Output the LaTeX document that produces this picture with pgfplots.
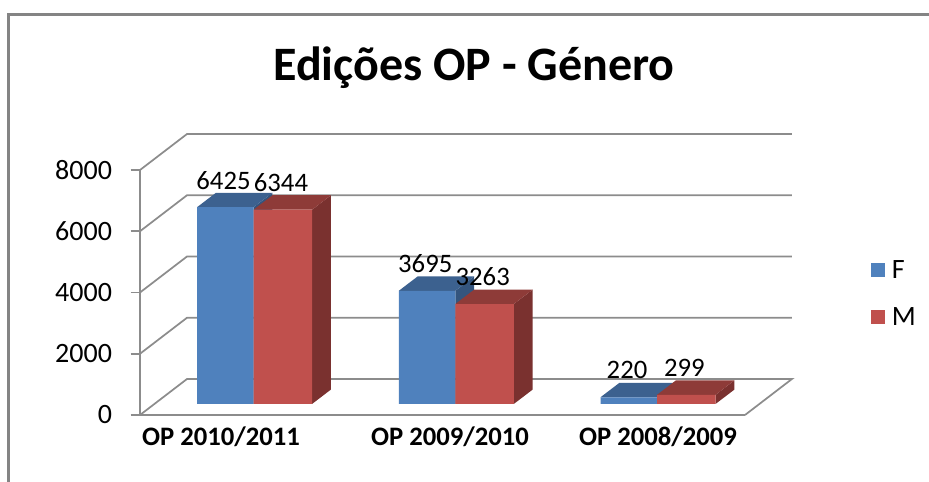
\documentclass[border=0pt]{standalone}
\usepackage{fontspec}
\setmainfont{Carlito}
\usepackage{pgfplots}
\pgfplotsset{compat=1.18}
\definecolor{gridc}{HTML}{8C8C8C}
\definecolor{framec}{HTML}{848484}
\definecolor{blueF}{HTML}{4F81BD}
\definecolor{blueT}{HTML}{3C618F}
\definecolor{blueS}{HTML}{34557E}
\definecolor{redF}{HTML}{C0504D}
\definecolor{redT}{HTML}{8E3B38}
\definecolor{redS}{HTML}{7A312F}
\pgfplotsset{
  base/.style={
    scale only axis, width=453.75pt, height=183.75pt,
    xmin=-0.5626, xmax=2.4362, ymin=0, ymax=8000,
    clip=false,
    /pgf/number format/assume math mode=true,
    /pgf/number format/1000 sep={},
  },
}
\begin{document}
\begin{tikzpicture}
\useasboundingbox (0,0) rectangle (696.75pt,361.5pt);
% outer frame of the chart, only top and left are there
\draw[framec, line width=1.8pt] (696.75pt,350.5pt) -- (6.5pt,350.5pt) -- (6.5pt,0);

% front plane: ticks, labels, and the walls behind
\begin{axis}[base, at={(105pt,50.25pt)}, anchor=south west,
  axis x line*=bottom, axis y line*=left,
  axis line style={gridc, line width=1.3pt},
  ytick={0,2000,4000,6000,8000},
  xtick={-0.161,0.974,2.005},
  xticklabels={OP 2010/2011,OP 2009/2010,OP 2008/2009},
  x tick style={draw=none},
  y tick style={gridc, line width=1.3pt},
  tick align=outside, major tick length=7pt,
  xticklabel style={font=\fontsize{20}{20}\selectfont\bfseries, yshift=2pt},
  yticklabel style={font=\fontsize{21}{21}\selectfont, xshift=-10.5pt},
]
\addplot[gridc, line width=1.3pt] coordinates {(-0.5626,0) (-0.3296,1176) (2.669,1176) (2.4362,0)};
\addplot[gridc, line width=1.3pt] coordinates {(-0.5626,2000) (-0.3296,3176) (2.669,3176)};
\addplot[gridc, line width=1.3pt] coordinates {(-0.5626,4000) (-0.3296,5176) (2.669,5176)};
\addplot[gridc, line width=1.3pt] coordinates {(-0.5626,6000) (-0.3296,7176) (2.669,7176)};
\addplot[gridc, line width=1.3pt] coordinates {(-0.5626,8000) (-0.3296,9176) (2.669,9176)};
\end{axis}

% bars stand a little behind the front plane
\begin{axis}[base, at={(105pt,58.5pt)}, anchor=south west, hide axis,
  legend image code/.code={\fill[#1] (0pt,-5.25pt) rectangle (10.5pt,5.25pt);},
  legend cell align=left,
  legend style={at={(1.0,0.5)}, anchor=north west, draw=none, fill=none,
    xshift=94pt, yshift=18.25pt, row sep=16.5pt,
    font=\fontsize{21}{21}\selectfont, inner sep=0pt},
  every node near coord/.append style={anchor=center, yshift=20.25pt,
    font=\fontsize{20}{20}\selectfont},
]
% side and top faces
\addplot[fill=blueS, draw=none, forget plot] coordinates {(0,6425) (0.094,6898) (0.094,473) (0,0)} --cycle;
\addplot[fill=blueT, draw=none, forget plot] coordinates {(-0.28,6425) (-0.186,6898) (0.094,6898) (0,6425)} --cycle;
\addplot[fill=redS, draw=none, forget plot] coordinates {(0.29,6344) (0.384,6817) (0.384,473) (0.29,0)} --cycle;
\addplot[fill=redT, draw=none, forget plot] coordinates {(0,6344) (0.094,6817) (0.384,6817) (0.29,6344)} --cycle;

\addplot[fill=blueS, draw=none, forget plot] coordinates {(1,3695) (1.094,4168) (1.094,473) (1,0)} --cycle;
\addplot[fill=blueT, draw=none, forget plot] coordinates {(0.72,3695) (0.814,4168) (1.094,4168) (1,3695)} --cycle;
\addplot[fill=redS, draw=none, forget plot] coordinates {(1.29,3263) (1.384,3736) (1.384,473) (1.29,0)} --cycle;
\addplot[fill=redT, draw=none, forget plot] coordinates {(1,3263) (1.094,3736) (1.384,3736) (1.29,3263)} --cycle;

\addplot[fill=blueS, draw=none, forget plot] coordinates {(2,220) (2.094,693) (2.094,473) (2,0)} --cycle;
\addplot[fill=blueT, draw=none, forget plot] coordinates {(1.72,220) (1.814,693) (2.094,693) (2,220)} --cycle;
\addplot[fill=redS, draw=none, forget plot] coordinates {(2.29,299) (2.384,772) (2.384,473) (2.29,0)} --cycle;
\addplot[fill=redT, draw=none, forget plot] coordinates {(2,299) (2.094,772) (2.384,772) (2.29,299)} --cycle;

% front faces
\addplot[ybar, bar width=0.28, bar shift=-0.14, fill=blueF, draw=none, nodes near coords,
  every node near coord/.append style={xshift=-22.5pt}]
  coordinates {(0,6425) (1,3695) (2,220)};
\addplot[ybar, bar width=0.29, bar shift=0.145, fill=redF, draw=none, nodes near coords,
  every node near coord/.append style={xshift=20.6pt}]
  coordinates {(0,6344) (1,3263) (2,299)};
\legend{\hspace*{3.5pt}F,\hspace*{3.5pt}M}
\end{axis}

\node[font=\fontsize{36}{36}\selectfont\bfseries] at (355.5pt,311pt) {Edições OP - Género};
\end{tikzpicture}
\end{document}
